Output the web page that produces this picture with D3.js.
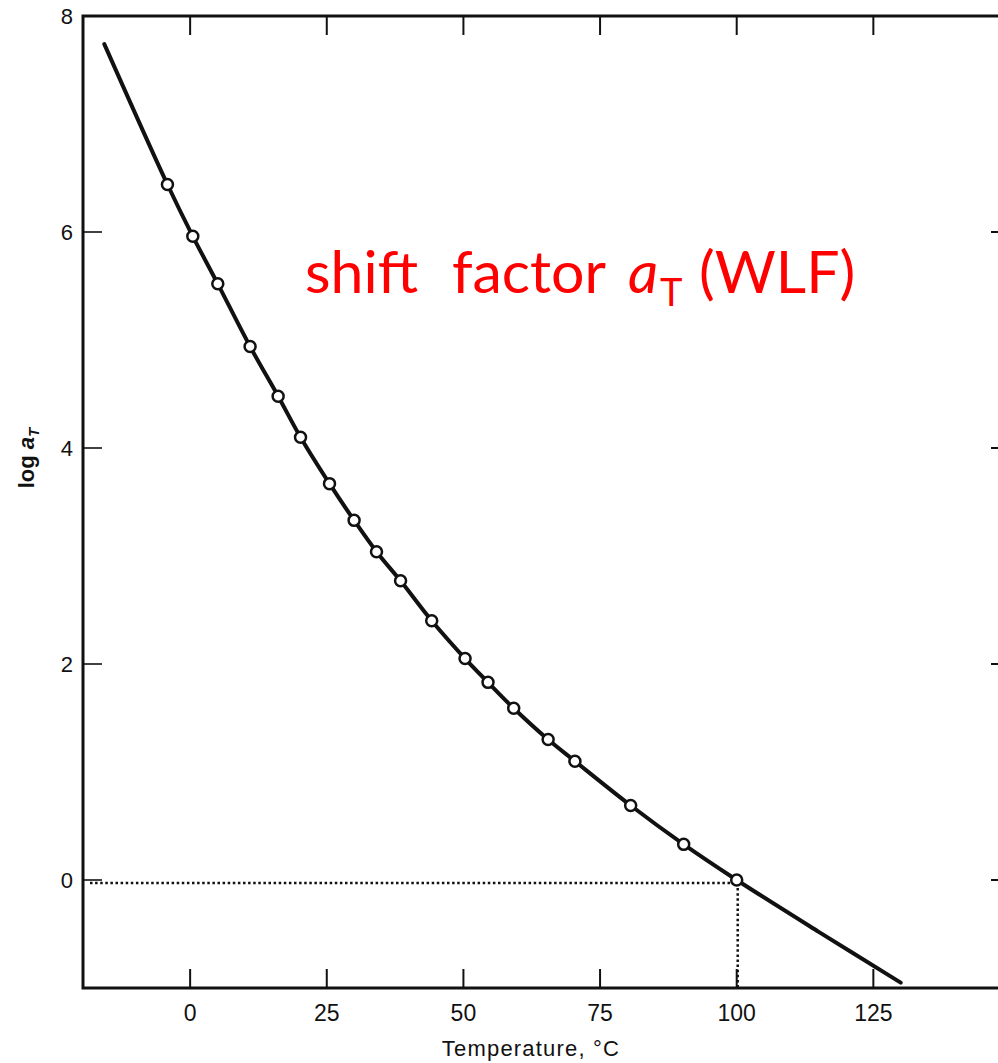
<!DOCTYPE html>
<html>
<head>
<meta charset="utf-8">
<script src="https://cdn.jsdelivr.net/npm/d3@7"></script>
<style>
  body { margin: 0; background: #fff; }
  svg { display: block; }
</style>
</head>
<body>
<script>
// measured points (temperature in C, log aT)
var pointT = [-4.15, 0.49, 5.06, 10.97, 16.1, 20.2, 25.5, 30.0, 34.1, 38.5,
              44.2, 50.3, 54.5, 59.2, 65.5, 70.4, 80.6, 90.3, 100];
var pointLog = [6.44, 5.96, 5.52, 4.94, 4.48, 4.10, 3.67, 3.33, 3.04, 2.77,
                2.40, 2.05, 1.83, 1.59, 1.30, 1.10, 0.69, 0.33, 0];

// smooth curve drawn through the points
var curveT = [-15.7, -4.15, 0.49, 5.06, 10.97, 16.1, 20.2, 25.5, 30.0, 34.1, 38.5,
              44.2, 50.3, 54.5, 59.2, 65.5, 70.4, 80.6, 90.3, 100, 115, 130];
var curveLog = [7.74, 6.44, 5.96, 5.52, 4.94, 4.48, 4.10, 3.67, 3.33, 3.04, 2.77,
                2.40, 2.05, 1.83, 1.59, 1.30, 1.10, 0.69, 0.33, 0, -0.48, -0.95];

var xTicks = [0, 25, 50, 75, 100, 125];
var yTicks = [0, 2, 4, 6, 8];

var refT = 100, refLog = 0;

var W = 998, H = 1063;

var svg = d3.select("body")
    .append("svg")
    .attr("width", W)
    .attr("height", H);

var x = d3.scaleLinear()
    .domain([-19.6, 150])
    .range([83, 1010]);

var y = d3.scaleLinear()
    .domain([-1, 8])
    .range([988, 16]);

var x0 = x.range()[0], x1 = x.range()[1],
    yBot = y.range()[0], yTop = y.range()[1];

// ==== frame ====
svg.append("rect")
    .attr("x", x0)
    .attr("y", yTop)
    .attr("width", x1 - x0)
    .attr("height", yBot - yTop)
    .attr("fill", "none")
    .attr("stroke", "#111")
    .attr("stroke-width", 3);

// ==== ticks ====
var tickLen = 19;

svg.append("g").selectAll("line.xb")
    .data(xTicks).enter().append("line")
    .attr("x1", d => x(d)).attr("x2", d => x(d))
    .attr("y1", yBot).attr("y2", yBot - tickLen)
    .attr("stroke", "#111").attr("stroke-width", 2);

svg.append("g").selectAll("line.xt")
    .data(xTicks).enter().append("line")
    .attr("x1", d => x(d)).attr("x2", d => x(d))
    .attr("y1", yTop).attr("y2", yTop + tickLen)
    .attr("stroke", "#111").attr("stroke-width", 2);

svg.append("g").selectAll("line.yl")
    .data(yTicks).enter().append("line")
    .attr("x1", x0).attr("x2", x0 + tickLen)
    .attr("y1", d => y(d)).attr("y2", d => y(d))
    .attr("stroke", "#111").attr("stroke-width", 1.6);

svg.append("g").selectAll("line.yr")
    .data(yTicks).enter().append("line")
    .attr("x1", x1).attr("x2", x1 - tickLen)
    .attr("y1", d => y(d)).attr("y2", d => y(d))
    .attr("stroke", "#111").attr("stroke-width", 2);

// ==== tick labels ====
svg.append("g").selectAll("text")
    .data(xTicks).enter().append("text")
    .text(d => d)
    .attr("x", d => x(d))
    .attr("y", 1021)
    .attr("text-anchor", "middle")
    .attr("font-family", '"Liberation Sans", Arial, sans-serif')
    .attr("font-size", "23px")
    .attr("fill", "#111");

svg.append("g").selectAll("text")
    .data(yTicks).enter().append("text")
    .text(d => d)
    .attr("x", 73)
    .attr("y", d => y(d))
    .attr("dy", "0.36em")
    .attr("text-anchor", "end")
    .attr("font-family", '"Liberation Sans", Arial, sans-serif')
    .attr("font-size", "22px")
    .attr("fill", "#111");

// ==== axis titles ====
svg.append("text")
    .attr("x", 531)
    .attr("y", 1056)
    .attr("text-anchor", "middle")
    .attr("font-family", '"Liberation Sans", Arial, sans-serif')
    .attr("font-size", "22px")
    .attr("letter-spacing", "1.2px")
    .attr("fill", "#111")
    .text("Temperature,  \u00b0C");

var yt = svg.append("text")
    .attr("transform", "translate(34,458) rotate(-90)")
    .attr("text-anchor", "middle")
    .attr("font-family", '"Liberation Sans", Arial, sans-serif')
    .attr("font-size", "22px")
    .attr("font-weight", "bold")
    .attr("fill", "#111");
yt.append("tspan").text("log ");
yt.append("tspan").text("a").attr("font-style", "italic");
yt.append("tspan").text("T").attr("font-style", "italic")
    .attr("font-size", "15px").attr("dy", "5");

// ==== dotted reference lines ====
svg.append("line")
    .attr("x1", x0 + 7).attr("x2", x(refT))
    .attr("y1", y(refLog) + 3).attr("y2", y(refLog) + 3)
    .attr("stroke", "#111")
    .attr("stroke-width", 2.5)
    .attr("stroke-dasharray", "2.5,2.6");

svg.append("line")
    .attr("x1", x(refT) + 1).attr("x2", x(refT) + 1)
    .attr("y1", y(refLog) + 3).attr("y2", yBot)
    .attr("stroke", "#111")
    .attr("stroke-width", 2.5)
    .attr("stroke-dasharray", "2.5,2.6");

// ==== curve ====
var curveData = curveT.map((t, i) => [t, curveLog[i]]);

var line = d3.line()
    .x(d => x(d[0]))
    .y(d => y(d[1]))
    .curve(d3.curveCatmullRom.alpha(0.5));

svg.append("path")
    .datum(curveData)
    .attr("d", line)
    .attr("fill", "none")
    .attr("stroke", "#111")
    .attr("stroke-width", 4)
    .attr("stroke-linecap", "round");

// ==== points ====
var pts = pointT.map((t, i) => [t, pointLog[i]]);

svg.append("g").selectAll("circle")
    .data(pts).enter().append("circle")
    .attr("cx", d => x(d[0]))
    .attr("cy", d => y(d[1]))
    .attr("r", 5.5)
    .attr("fill", "white")
    .attr("stroke", "#111")
    .attr("stroke-width", 2.5);

// ==== red annotation ====
var red = "#ff0000";
var ann = svg.append("g")
    .attr("font-family", 'Lato, "Open Sans", sans-serif')
    .attr("font-size", "59px")
    .attr("fill", red);

ann.append("text").attr("x", 305).attr("y", 293).text("shift");
ann.append("text").attr("x", 452).attr("y", 293).text("factor");
ann.append("text").attr("x", 628).attr("y", 293).attr("font-style", "italic").text("a");
ann.append("text").attr("x", 660).attr("y", 306).attr("font-size", "38px").text("T");
ann.append("text").attr("x", 699).attr("y", 293).text("(WLF)");
</script>
</body>
</html>
